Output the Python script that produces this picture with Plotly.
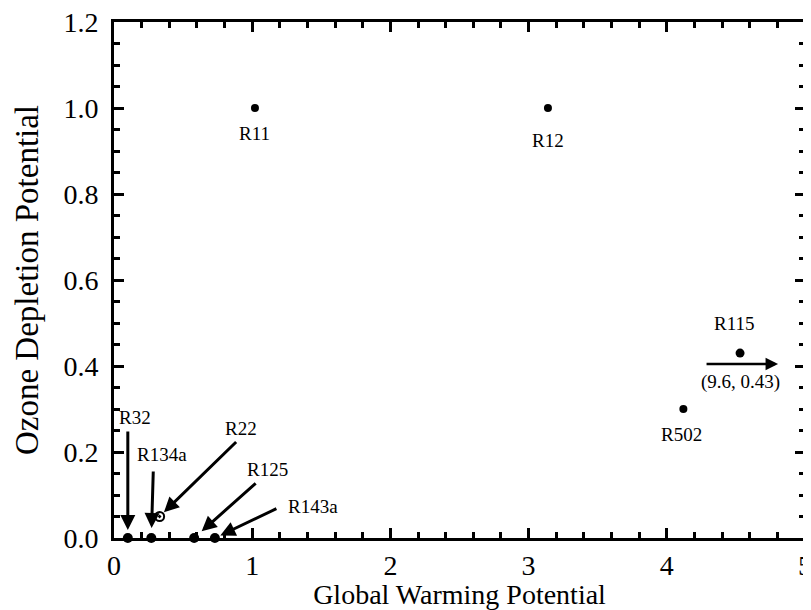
import plotly.graph_objects as go

# Data
names = ["R11", "R12", "R115", "R502", "R22", "R32", "R134a", "R125", "R143a"]
gwp = [1.02, 3.14, 4.53, 4.12, 0.33, 0.10, 0.27, 0.58, 0.73]
odp = [1.0, 1.0, 0.43, 0.30, 0.05, 0.0, 0.0, 0.0, 0.0]
r115_note = "(9.6, 0.43)"

x_ticks = [0, 1, 2, 3, 4, 5]
y_ticks = [0.0, 0.2, 0.4, 0.6, 0.8, 1.0, 1.2]

FONT = "Liberation Serif"

# label style offsets (pixels): xshift, yshift
label_offsets = {
    "R11": (0, -25), "R12": (0, -32), "R115": (-6, 30), "R502": (-2, -25),
    "R22": (81, 88), "R32": (7, 121), "R134a": (11, 84), "R125": (73, 69), "R143a": (98, 32),
}
# arrows: ax, ay, standoff
arrow_style = {
    "R32": (0, -108, 8), "R134a": (2, -68, 10), "R22": (78, -76, 6),
    "R125": (63, -56, 10), "R143a": (63, -30, 6),
}

fig = go.Figure()
symbols = ["circle-open-dot" if n == "R22" else "circle" for n in names]
fig.add_trace(go.Scatter(
    x=gwp, y=odp, mode="markers", opacity=1,
    marker=dict(color="#000000", size=[8, 8, 9, 8, 9, 10, 10, 10, 10], symbol=symbols, opacity=1,
                line=dict(color="#000000", width=[0, 0, 0, 0, 2, 0, 0, 0, 0])),
    cliponaxis=False, showlegend=False, hoverinfo="skip",
))

annotations = []
for n, xv, yv in zip(names, gwp, odp):
    dx, dy = label_offsets[n]
    annotations.append(dict(x=xv, y=yv, xref="x", yref="y", text=n, showarrow=False,
                            xshift=dx, yshift=dy,
                            font=dict(family=FONT, size=19, color="black")))
    if n in arrow_style:
        ax, ay, so = arrow_style[n]
        annotations.append(dict(x=xv, y=yv, xref="x", yref="y", text="", showarrow=True,
                                ax=ax, ay=ay, axref="pixel", ayref="pixel",
                                arrowhead=2, arrowsize=1, arrowwidth=3, arrowcolor="black",
                                standoff=so))

i115 = names.index("R115")
annotations.append(dict(x=gwp[i115], y=odp[i115], xref="x", yref="y", text=r115_note,
                        showarrow=False, xshift=0, yshift=-29,
                        font=dict(family=FONT, size=19, color="black")))
annotations.append(dict(x=gwp[i115], y=odp[i115], xref="x", yref="y", text="", showarrow=True,
                        ax=-73, ay=0, axref="pixel", ayref="pixel", xshift=38, yshift=-11,
                        arrowhead=2, arrowsize=1, arrowwidth=2.5, arrowcolor="black", standoff=0))

axis_common = dict(
    showgrid=False, zeroline=False, showline=True, linecolor="black", linewidth=3,
    mirror="ticks", ticks="inside", ticklen=10, tickwidth=3, tickcolor="black",
    tickfont=dict(family=FONT, size=28, color="black"), automargin=False,
    ticklabeloverflow="allow",
)

fig.update_xaxes(range=[0, 5], tickvals=x_ticks, ticktext=[str(v) for v in x_ticks],
                 minor=dict(dtick=0.2, ticks="inside", ticklen=6, tickwidth=3, tickcolor="black"),
                 title=dict(text="Global Warming Potential", font=dict(family=FONT, size=28, color="black"),
                            standoff=8),
                 **axis_common)
fig.update_yaxes(range=[0, 1.2], tickvals=y_ticks, ticktext=[f"{v:.1f}" for v in y_ticks],
                 minor=dict(dtick=0.05, ticks="inside", ticklen=6, tickwidth=3, tickcolor="black"),
                 title=dict(text="Ozone Depletion Potential", font=dict(family=FONT, size=33, color="black"),
                            standoff=15),
                 ticklabelstandoff=7,
                 **axis_common)

fig.update_layout(
    width=803, height=602,
    margin=dict(l=106, r=6, t=14, b=72),
    plot_bgcolor="white", paper_bgcolor="white",
    annotations=annotations,
)

fig.write_html("out.html")
